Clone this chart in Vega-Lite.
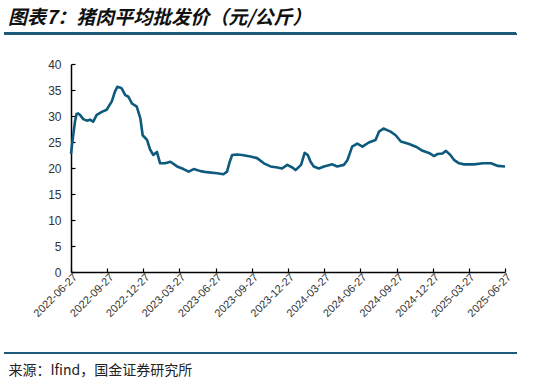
{
  "$schema": "https://vega.github.io/schema/vega-lite/v6.json",
  "width": 434,
  "height": 208,
  "autosize": "none",
  "padding": {"left": 71, "top": 64, "right": 36, "bottom": 113},
  "background": "white",
  "view": {"stroke": null},
  "config": {
    "axis": {"labelOverlap": false, "grid": false, "domainColor": "#000000", "domainWidth": 1.5, "tickColor": "#000000", "tickSize": -4, "tickWidth": 1.2, "labelColor": "#333333", "labelFont": "Liberation Sans"}
  },
  "title": {
    "text": "图表7：猪肉平均批发价（元/公斤）",
    "anchor": "start",
    "frame": "group",
    "font": "Noto Sans CJK SC",
    "fontSize": 19,
    "fontWeight": "bold",
    "fontStyle": "italic",
    "color": "#111111",
    "dx": -63,
    "offset": 5
  },
  "data": {
    "values": [
      {"date": "2022-06-27", "price": 22.7},
      {"date": "2022-07-02", "price": 26.0},
      {"date": "2022-07-07", "price": 28.9},
      {"date": "2022-07-11", "price": 30.4},
      {"date": "2022-07-15", "price": 30.5},
      {"date": "2022-07-20", "price": 30.2},
      {"date": "2022-07-28", "price": 29.4},
      {"date": "2022-08-06", "price": 29.1},
      {"date": "2022-08-14", "price": 29.3},
      {"date": "2022-08-22", "price": 28.9},
      {"date": "2022-08-31", "price": 30.2},
      {"date": "2022-09-13", "price": 30.8},
      {"date": "2022-09-25", "price": 31.2},
      {"date": "2022-10-08", "price": 32.8},
      {"date": "2022-10-16", "price": 34.7},
      {"date": "2022-10-22", "price": 35.6},
      {"date": "2022-10-28", "price": 35.5},
      {"date": "2022-11-02", "price": 35.3},
      {"date": "2022-11-11", "price": 34.0},
      {"date": "2022-11-19", "price": 33.7},
      {"date": "2022-11-28", "price": 32.4},
      {"date": "2022-12-10", "price": 31.8},
      {"date": "2022-12-19", "price": 29.6},
      {"date": "2022-12-25", "price": 26.3},
      {"date": "2023-01-05", "price": 25.4},
      {"date": "2023-01-13", "price": 23.5},
      {"date": "2023-01-21", "price": 22.5},
      {"date": "2023-01-30", "price": 23.1},
      {"date": "2023-02-07", "price": 20.9},
      {"date": "2023-02-20", "price": 20.9},
      {"date": "2023-03-05", "price": 21.2},
      {"date": "2023-03-22", "price": 20.3},
      {"date": "2023-04-07", "price": 19.8},
      {"date": "2023-04-20", "price": 19.3},
      {"date": "2023-05-03", "price": 19.8},
      {"date": "2023-05-20", "price": 19.4},
      {"date": "2023-06-05", "price": 19.2},
      {"date": "2023-07-01", "price": 19.0},
      {"date": "2023-07-17", "price": 18.8},
      {"date": "2023-07-26", "price": 19.3},
      {"date": "2023-08-01", "price": 21.0},
      {"date": "2023-08-08", "price": 22.5},
      {"date": "2023-08-20", "price": 22.6},
      {"date": "2023-09-02", "price": 22.5},
      {"date": "2023-09-23", "price": 22.2},
      {"date": "2023-10-10", "price": 21.9},
      {"date": "2023-10-27", "price": 20.9},
      {"date": "2023-11-13", "price": 20.3},
      {"date": "2023-11-30", "price": 20.1},
      {"date": "2023-12-12", "price": 19.9},
      {"date": "2023-12-25", "price": 20.6},
      {"date": "2024-01-07", "price": 20.1},
      {"date": "2024-01-15", "price": 19.6},
      {"date": "2024-01-29", "price": 20.6},
      {"date": "2024-02-07", "price": 22.9},
      {"date": "2024-02-15", "price": 22.5},
      {"date": "2024-02-22", "price": 21.2},
      {"date": "2024-03-01", "price": 20.3},
      {"date": "2024-03-14", "price": 19.9},
      {"date": "2024-03-27", "price": 20.3},
      {"date": "2024-04-17", "price": 20.7},
      {"date": "2024-04-29", "price": 20.3},
      {"date": "2024-05-16", "price": 20.6},
      {"date": "2024-05-25", "price": 21.5},
      {"date": "2024-06-06", "price": 24.1},
      {"date": "2024-06-19", "price": 24.7},
      {"date": "2024-07-02", "price": 24.1},
      {"date": "2024-07-18", "price": 24.9},
      {"date": "2024-08-04", "price": 25.4},
      {"date": "2024-08-13", "price": 27.0},
      {"date": "2024-08-24", "price": 27.6},
      {"date": "2024-09-11", "price": 27.0},
      {"date": "2024-09-24", "price": 26.3},
      {"date": "2024-10-07", "price": 25.1},
      {"date": "2024-10-28", "price": 24.6},
      {"date": "2024-11-14", "price": 24.1},
      {"date": "2024-12-01", "price": 23.3},
      {"date": "2024-12-17", "price": 22.9},
      {"date": "2024-12-30", "price": 22.3},
      {"date": "2025-01-08", "price": 22.7},
      {"date": "2025-01-20", "price": 22.8},
      {"date": "2025-01-29", "price": 23.3},
      {"date": "2025-02-09", "price": 22.5},
      {"date": "2025-02-19", "price": 21.5},
      {"date": "2025-03-03", "price": 20.9},
      {"date": "2025-03-16", "price": 20.7},
      {"date": "2025-04-10", "price": 20.7},
      {"date": "2025-05-02", "price": 20.9},
      {"date": "2025-05-23", "price": 20.9},
      {"date": "2025-06-09", "price": 20.4},
      {"date": "2025-06-27", "price": 20.3}
    ]
  },
  "layer": [
    {
      "mark": {"type": "line", "color": "#0d5a7d", "strokeWidth": 2.6, "strokeJoin": "round"},
      "encoding": {
        "x": {
          "field": "date",
          "type": "temporal",
          "scale": {"type": "utc", "domain": [{"year": 2022, "month": 6, "date": 27, "utc": true}, {"year": 2025, "month": 6, "date": 27, "utc": true}]},
          "axis": {
            "values": [
              {"year": 2022, "month": 6, "date": 27, "utc": true},
              {"year": 2022, "month": 9, "date": 27, "utc": true},
              {"year": 2022, "month": 12, "date": 27, "utc": true},
              {"year": 2023, "month": 3, "date": 27, "utc": true},
              {"year": 2023, "month": 6, "date": 27, "utc": true},
              {"year": 2023, "month": 9, "date": 27, "utc": true},
              {"year": 2023, "month": 12, "date": 27, "utc": true},
              {"year": 2024, "month": 3, "date": 27, "utc": true},
              {"year": 2024, "month": 6, "date": 27, "utc": true},
              {"year": 2024, "month": 9, "date": 27, "utc": true},
              {"year": 2024, "month": 12, "date": 27, "utc": true},
              {"year": 2025, "month": 3, "date": 27, "utc": true},
              {"year": 2025, "month": 6, "date": 27, "utc": true}
            ],
            "tickCount": 100,
            "format": "%Y-%m-%d",
            "labelAngle": -45,
            "labelFontSize": 11,
            "labelPadding": 3,
            "labelOverlap": false,
            "labelBound": false,
            "labelFlush": false,
            "title": "来源：Ifind，国金证券研究所",
            "titleFont": "Noto Sans CJK SC",
            "titleFontSize": 14,
            "titleFontWeight": "normal",
            "titleColor": "#222222",
            "titleAnchor": "start",
            "titleAlign": "left",
            "titleBaseline": "alphabetic",
            "titleX": -63,
            "titleY": 102
          }
        },
        "y": {
          "field": "price",
          "type": "quantitative",
          "scale": {"domain": [0, 40], "nice": false, "zero": true},
          "axis": {
            "values": [0, 5, 10, 15, 20, 25, 30, 35, 40],
            "tickCount": 100,
            "format": "d",
            "labelFontSize": 12,
            "labelPadding": 14,
            "labelOverlap": false,
            "title": null
          }
        }
      }
    },
    {
      "mark": {"type": "rule", "color": "#1f5a7a", "strokeWidth": 2},
      "encoding": {
        "x": {"datum": {"year": 2022, "month": 1, "date": 11, "utc": true}, "type": "temporal"},
        "x2": {"datum": {"year": 2025, "month": 7, "date": 25, "utc": true}},
        "y": {"datum": 45.8, "type": "quantitative"}
      }
    },
    {
      "mark": {"type": "rule", "color": "#1f5a7a", "strokeWidth": 2},
      "encoding": {
        "x": {"datum": {"year": 2022, "month": 1, "date": 11, "utc": true}, "type": "temporal"},
        "x2": {"datum": {"year": 2025, "month": 7, "date": 25, "utc": true}},
        "y": {"datum": -15.6, "type": "quantitative"}
      }
    }
  ]
}
